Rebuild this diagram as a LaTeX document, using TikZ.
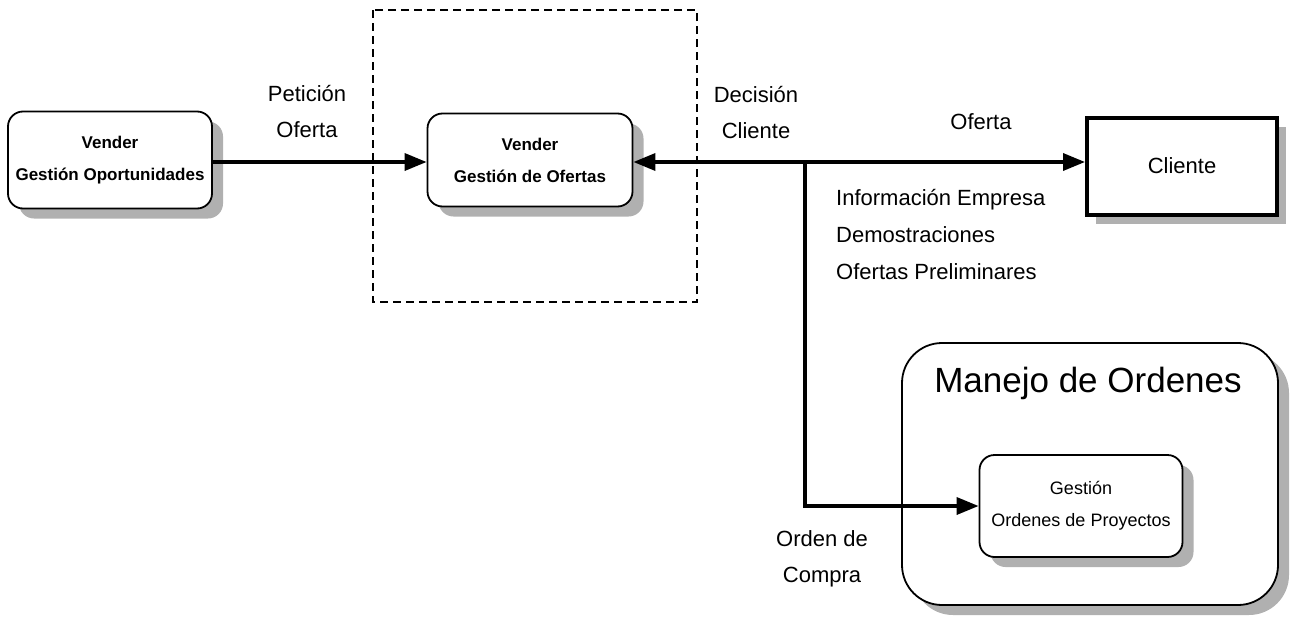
\documentclass[tikz,border=0pt]{standalone}
\usepackage{fontspec}
\setmainfont{Liberation Sans}
\usetikzlibrary{arrows.meta,shadows}
\begin{document}
\begin{tikzpicture}[x=1pt,y=-1pt,
  proc/.style={draw=black, line width=1.8pt, fill=white, rounded corners=15pt,
    align=center, inner sep=0pt,
    drop shadow={shadow xshift=11pt, shadow yshift=-10pt, fill=gray!62, opacity=1}},
  boxtext/.style={font=\fontsize{17}{32}\selectfont\bfseries},
  lbl/.style={font=\fontsize{22}{36}\selectfont, align=center, inner sep=0pt},
  arr/.style={line width=3.5pt, -{Triangle[length=22pt,width=17pt]}},
  link/.style={line width=3.5pt}
]
\useasboundingbox (0,0) rectangle (1293,621);

% frame around the offer management process
\draw[line width=2.2pt, dash pattern=on 8pt off 5pt] (373,10) rectangle (697,302);

% process boxes
\node[proc, boxtext, minimum width=204pt, minimum height=97pt] (opp) at (110,160)
  {Vender\\Gestión Oportunidades};
\node[proc, boxtext, minimum width=205pt, minimum height=93pt] (ofe) at (530,160)
  {Vender\\Gestión de Ofertas};
\node[draw=black, line width=4pt, fill=white, minimum width=190pt, minimum height=97pt,
  font=\fontsize{22}{26}\selectfont, inner sep=0pt,
  drop shadow={shadow xshift=9pt, shadow yshift=-9pt, fill=gray!62, opacity=1}]
  (cli) at (1182,166) {Cliente};

% order handling area
\node[proc, rounded corners=40pt, minimum width=376pt, minimum height=262pt] (man) at (1090,474) {};
\node[font=\fontsize{35}{40}\selectfont, inner sep=0pt] (mant) at (1088,383) {Manejo de Ordenes};
\node[proc, font=\fontsize{18}{32}\selectfont, minimum width=203pt, minimum height=102pt]
  (ord) at (1081,506) {Gestión\\Ordenes de Proyectos};

% connectors
\coordinate (j) at (805,162);
\draw[arr] (opp.east |- 0,162) -- (ofe.west |- 0,162);
\draw[arr] (j) -- (ofe.east |- j);
\draw[arr] (j) -- (cli.west |- j);
\draw[arr] (j) |- (ord.west);

% flow labels
\node[lbl] (l1) at (307,112) {Petición\\Oferta};
\node[lbl] (l2) at (756,113) {Decisión\\Cliente};
\node[lbl] (l3) at (981,122) {Oferta};
\node[lbl, anchor=west, align=left, font=\fontsize{22}{37}\selectfont] (l4) at (836,235)
  {Información Empresa\\Demostraciones\\Ofertas Preliminares};
\node[lbl] (l5) at (822,559) {Orden de\\Compra};
\end{tikzpicture}
\end{document}
